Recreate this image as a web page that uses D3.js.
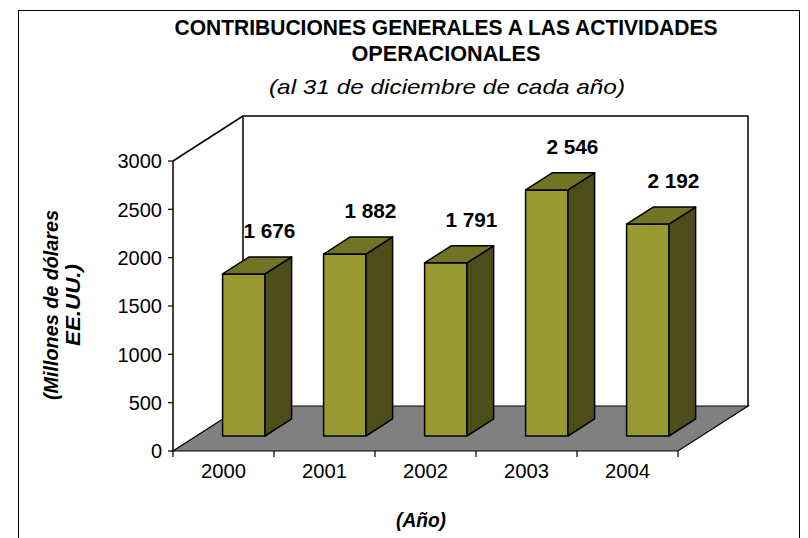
<!DOCTYPE html>
<html>
<head>
<meta charset="utf-8">
<script src="https://cdn.jsdelivr.net/npm/d3@7"></script>
<style>
  body { margin: 0; background: #fff; }
  .chart { width: 808px; height: 538px; }
  text { font-family: "Liberation Sans", Arial, sans-serif; fill: #000; }
</style>
</head>
<body>
<div class="chart"></div>
<script>
// data
let years = ["2000", "2001", "2002", "2003", "2004"];
let contributions = [1676, 1882, 1791, 2546, 2192];
let valueLabels = ["1 676", "1 882", "1 791", "2 546", "2 192"];
let yTicks = [0, 500, 1000, 1500, 2000, 2500, 3000];

let titleLines = ["CONTRIBUCIONES GENERALES A LAS ACTIVIDADES", "OPERACIONALES"];
let subtitle = "(al 31 de diciembre de cada año)";
let yTitle = ["(Millones de dólares", "EE.UU.)"];
let xTitle = "(Año)";

let chart = {};

// depth of the 3d box
chart.dx = 70;
chart.dy = -45;

chart.svg = d3.select(".chart").append("svg")
    .attr("width", 808)
    .attr("height", 538);

// outer frame
chart.svg.append("rect")
    .attr("x", 18.5).attr("y", 10.5)
    .attr("width", 781).attr("height", 540)
    .attr("fill", "none").attr("stroke", "#000").attr("stroke-width", 1);

chart.x = d3.scaleBand().domain(years).range([173, 678]);
chart.y = d3.scaleLinear().domain([0, 3000]).range([451, 161]);

// project a point (screen x, value, depth 0..1)
function P(x, v, z) {
    return [x + z * chart.dx, chart.y(v) + z * chart.dy];
}

let line = d3.line();
let x0 = chart.x.range()[0], x1 = chart.x.range()[1];

// left side wall (only outline)
chart.svg.append("path")
    .attr("d", line([P(x0, 3000, 0), P(x0, 3000, 1)]))
    .attr("stroke", "#000").attr("stroke-width", 1.5).attr("fill", "none");

// back wall
chart.svg.append("path")
    .attr("d", line([P(x0, 0, 1), P(x0, 3000, 1), P(x1, 3000, 1), P(x1, 0, 1)]))
    .attr("stroke", "#000").attr("stroke-width", 1.5).attr("fill", "#fff");

// floor
chart.svg.append("path")
    .attr("d", line([P(x0, 0, 0), P(x1, 0, 0), P(x1, 0, 1), P(x0, 0, 1)]) + "Z")
    .attr("fill", "#808080").attr("stroke", "#000").attr("stroke-width", 1.2);

// y axis
chart.svg.append("path")
    .attr("d", line([[x0, chart.y(3000)], [x0, chart.y(0)]]))
    .attr("stroke", "#000").attr("stroke-width", 1.5);

let yt = chart.svg.append("g").selectAll("g")
    .data(yTicks).enter().append("g")
    .attr("transform", d => `translate(${x0},${chart.y(d)})`);
yt.append("line").attr("x1", -5).attr("x2", 0).attr("stroke", "#000").attr("stroke-width", 1.2);
yt.append("text")
    .attr("x", -11).attr("dy", "0.36em")
    .attr("text-anchor", "end")
    .style("font-size", "20px")
    .text(d => d);

// x axis ticks + labels
let xTickPos = years.map(d => chart.x(d)).concat([x1]);
chart.svg.append("g").selectAll("line")
    .data(xTickPos).enter().append("line")
    .attr("x1", d => d).attr("x2", d => d)
    .attr("y1", chart.y(0)).attr("y2", chart.y(0) + 6)
    .attr("stroke", "#000").attr("stroke-width", 1.2);

chart.svg.append("g").selectAll("text")
    .data(years).enter().append("text")
    .attr("x", d => chart.x(d) + chart.x.bandwidth() / 2)
    .attr("y", 478)
    .attr("text-anchor", "middle")
    .style("font-size", "20px")
    .attr("textLength", 45).attr("lengthAdjust", "spacingAndGlyphs")
    .text(d => d);

// bars
let bw = chart.x.bandwidth();
let z0 = 1 / 3, z1 = z0 + 0.38;
let bars = years.map((d, i) => {
    let xl = chart.x(d) + bw * 0.26;
    let xr = xl + bw * 0.42;
    return {year: d, v: contributions[i], label: valueLabels[i], xl: xl, xr: xr};
});

let barG = chart.svg.append("g").selectAll("g")
    .data(bars).enter().append("g");

barG.append("path") // front
    .attr("d", b => line([P(b.xl, 0, z0), P(b.xr, 0, z0), P(b.xr, b.v, z0), P(b.xl, b.v, z0)]) + "Z")
    .attr("fill", "#999933").attr("stroke", "#000").attr("stroke-width", 1.5).attr("stroke-linejoin", "round");
barG.append("path") // side
    .attr("d", b => line([P(b.xr, 0, z0), P(b.xr, 0, z1), P(b.xr, b.v, z1), P(b.xr, b.v, z0)]) + "Z")
    .attr("fill", "#4d4d1a").attr("stroke", "#000").attr("stroke-width", 1.5).attr("stroke-linejoin", "round");
barG.append("path") // top
    .attr("d", b => line([P(b.xl, b.v, z0), P(b.xr, b.v, z0), P(b.xr, b.v, z1), P(b.xl, b.v, z1)]) + "Z")
    .attr("fill", "#737326").attr("stroke", "#000").attr("stroke-width", 1.5).attr("stroke-linejoin", "round");

barG.append("text")
    .attr("x", b => (b.xl + b.xr) / 2 + z1 * chart.dx - 1)
    .attr("y", b => chart.y(b.v) + z1 * chart.dy - 19)
    .attr("text-anchor", "middle")
    .style("font-size", "20px").style("font-weight", "bold")
    .attr("textLength", 52).attr("lengthAdjust", "spacingAndGlyphs")
    .text(b => b.label);

// titles
chart.svg.append("g").selectAll("text")
    .data(titleLines).enter().append("text")
    .attr("x", 446).attr("y", (d, i) => 35 + i * 26)
    .attr("text-anchor", "middle")
    .style("font-size", "22px").style("font-weight", "bold")
    .attr("textLength", (d, i) => i === 0 ? 543 : 189).attr("lengthAdjust", "spacingAndGlyphs")
    .text(d => d);

chart.svg.append("text")
    .attr("x", 447).attr("y", 94)
    .attr("text-anchor", "middle")
    .style("font-size", "21px").style("font-style", "italic")
    .attr("textLength", 356).attr("lengthAdjust", "spacingAndGlyphs")
    .text(subtitle);

chart.svg.append("g").selectAll("text")
    .data(yTitle).enter().append("text")
    .attr("transform", (d, i) => `translate(${58 + i * 22},305) rotate(-90)`)
    .attr("text-anchor", "middle")
    .style("font-size", "20px").style("font-weight", "bold").style("font-style", "italic")
    .attr("textLength", (d, i) => i === 0 ? 190 : 82).attr("lengthAdjust", "spacingAndGlyphs")
    .text(d => d);

chart.svg.append("text")
    .attr("x", 421).attr("y", 527)
    .attr("text-anchor", "middle")
    .style("font-size", "20px").style("font-weight", "bold").style("font-style", "italic")
    .attr("textLength", 50).attr("lengthAdjust", "spacingAndGlyphs")
    .text(xTitle);
</script>
</body>
</html>
